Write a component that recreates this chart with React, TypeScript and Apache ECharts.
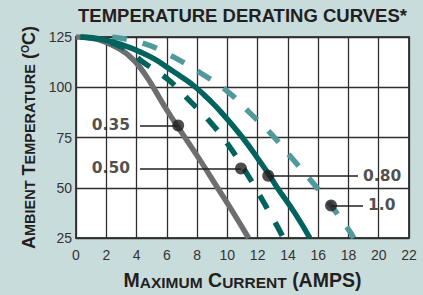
import React, { useEffect, useRef } from 'react';
import * as echarts from 'echarts';

// Axis ticks
const xTicks = [0, 2, 4, 6, 8, 10, 12, 14, 16, 18, 20, 22];
const yTicks = [25, 50, 75, 100, 125];

// Derating curves (x = current in A, y = ambient temperature in °C)
const curve035 = [
  [0, 125], [1, 124.5], [2, 122.3], [3.1, 118], [3.6, 115], [4.0, 112], [4.6, 106],
  [5.1, 100], [6.1, 87.5], [7.2, 75], [8.3, 62.5], [9.35, 50], [10.4, 37.5], [11.4, 25],
];
const curve050 = [
  [0.3, 125], [1.4, 124], [2.7, 121], [3.5, 118], [4.3, 113.2], [6.05, 104],
  [7.6, 92.6], [8.95, 82], [10.0, 72], [11.35, 56.3], [12.3, 44.1], [13.3, 30.8], [13.7, 25],
];
const curve080 = [
  [0.3, 125], [1.6, 124], [3.1, 121], [4.1, 118], [5.2, 114], [6.0, 110], [7.0, 105],
  [7.9, 100], [8.8, 93.75], [9.6, 87.5], [11.0, 75], [12.2, 62.5], [12.8, 56],
  [13.3, 50], [14.45, 37.5], [15.45, 25],
];
const curve100 = [
  [2.4, 125], [4.45, 121.8], [6.3, 115.6], [8.2, 107.2], [9.9, 98.6], [11.45, 87.5],
  [12.8, 77.5], [14.2, 65.3], [15.45, 54.2], [16.55, 44.1], [17.95, 29.8], [18.35, 25],
];

// Callouts
const calloutLabels = ['0.35', '0.50', '0.80', '1.0'];
const calloutDotX = [6.75, 10.9, 12.7, 16.85];
const calloutDotY = [81, 59.6, 56, 41.2];
const calloutEndX = [4.23, 4.23, 18.63, 18.96];
const calloutSide = ['left', 'left', 'right', 'right'];

const GRAY = '#6d6e70';
const DARK = '#00635e';
const LIGHT = '#509a9d';
const INK = '#231f20';
const FONT = 'Liberation Sans, Arial, Helvetica, sans-serif';

export default function App() {
  const ref = useRef<HTMLDivElement>(null);
  useEffect(() => {
    document.body.style.margin = '0';
    const chart = echarts.init(ref.current!, null, { renderer: 'svg' });
    const lineSeries = (name: string, data: number[][], color: string, dashed: boolean) => ({
      name,
      type: 'line',
      data,
      smooth: 0.5,
      showSymbol: false,
      silent: true,
      lineStyle: {
        color,
        width: 5.5,
        type: dashed ? [15, 16] : 'solid',
        cap: 'butt',
      },
    });
    chart.setOption({
      animation: false,
      backgroundColor: '#c9dcdc',
      title: {
        text: 'TEMPERATURE DERATING CURVES*',
        left: 78,
        top: 6,
        padding: 0,
        textStyle: { fontFamily: FONT, fontWeight: 'bold', fontSize: 18.5, color: INK },
      },
      grid: {
        left: 76, right: 14, top: 37, bottom: 52,
        show: true, backgroundColor: '#ffffff', borderColor: '#444', borderWidth: 2,
      },
      xAxis: {
        type: 'value',
        min: xTicks[0],
        max: xTicks[xTicks.length - 1],
        interval: xTicks[1] - xTicks[0],
        axisLine: { show: false },
        axisTick: { show: false },
        axisLabel: { color: '#333', fontFamily: FONT, fontSize: 14, margin: 10 },
        splitLine: { show: true, lineStyle: { color: '#2e2e2e', width: 1.3 } },
        name: '{b|M}{s|AXIMUM} {b|C}{s|URRENT} {b|(AMPS)}',
        nameLocation: 'middle',
        nameGap: 32,
        nameTextStyle: {
          fontFamily: FONT, fontWeight: 'bold', fontSize: 19.5, color: INK,
          rich: {
            b: { fontFamily: FONT, fontWeight: 'bold', fontSize: 19.5, color: INK, verticalAlign: 'bottom' },
            s: { fontFamily: FONT, fontWeight: 'bold', fontSize: 15.5, color: INK, verticalAlign: 'bottom' },
          },
        },
      },
      yAxis: {
        type: 'value',
        min: yTicks[0],
        max: yTicks[yTicks.length - 1],
        interval: yTicks[1] - yTicks[0],
        axisLine: { show: false },
        axisTick: { show: false },
        axisLabel: { color: '#333', fontFamily: FONT, fontSize: 14, margin: 4 },
        splitLine: { show: true, lineStyle: { color: '#2e2e2e', width: 1.3 } },
        name: '{b|A}{s|MBIENT} {b|T}{s|EMPERATURE} {b|(}{sup|O}{b|C)}',
        nameLocation: 'middle',
        nameGap: 35,
        nameTextStyle: {
          fontFamily: FONT, fontWeight: 'bold', fontSize: 18, color: INK,
          rich: {
            b: { fontFamily: FONT, fontWeight: 'bold', fontSize: 18, color: INK, verticalAlign: 'bottom' },
            s: { fontFamily: FONT, fontWeight: 'bold', fontSize: 14.5, color: INK, verticalAlign: 'bottom' },
            sup: { fontFamily: FONT, fontWeight: 'bold', fontSize: 10.5, color: INK, verticalAlign: 'top' },
          },
        },
      },
      series: [
        lineSeries('0.35', curve035, GRAY, false),
        lineSeries('1.0', curve100, LIGHT, true),
        lineSeries('0.50', curve050, DARK, true),
        lineSeries('0.80', curve080, DARK, false),
        {
          name: 'leaders',
          type: 'scatter',
          data: [],
          silent: true,
          markLine: {
            silent: true,
            symbol: ['none', 'none'],
            label: { show: false },
            lineStyle: { color: INK, width: 1.5, type: 'solid' },
            data: calloutLabels.map((_, i) => [
              { coord: [calloutEndX[i], calloutDotY[i]] },
              { coord: [calloutDotX[i], calloutDotY[i]] },
            ]),
          },
        },
        {
          name: 'dots',
          type: 'scatter',
          silent: true,
          symbolSize: 12,
          itemStyle: { color: INK },
          data: calloutLabels.map((_, i) => [calloutDotX[i], calloutDotY[i]]),
          z: 5,
        },
        {
          name: 'callout labels',
          type: 'scatter',
          silent: true,
          symbolSize: 0,
          itemStyle: { color: 'transparent' },
          data: calloutLabels.map((t, i) => ({
            name: t,
            value: [calloutEndX[i], calloutDotY[i]],
            label: {
              show: true,
              position: calloutSide[i],
              distance: calloutSide[i] === 'left' ? 10 : 5,
            },
          })),
          label: {
            show: true,
            formatter: '{b}',
            fontFamily: 'DejaVu Sans, sans-serif',
            fontWeight: 'bold',
            fontSize: 15.5,
            color: INK,
          },
          z: 6,
        },
      ],
    });
    return () => chart.dispose();
  }, []);
  return (
    <div
      ref={ref}
      style={{ width: 423, height: 295, position: 'fixed', left: 0, top: 0 }}
    />
  );
}
